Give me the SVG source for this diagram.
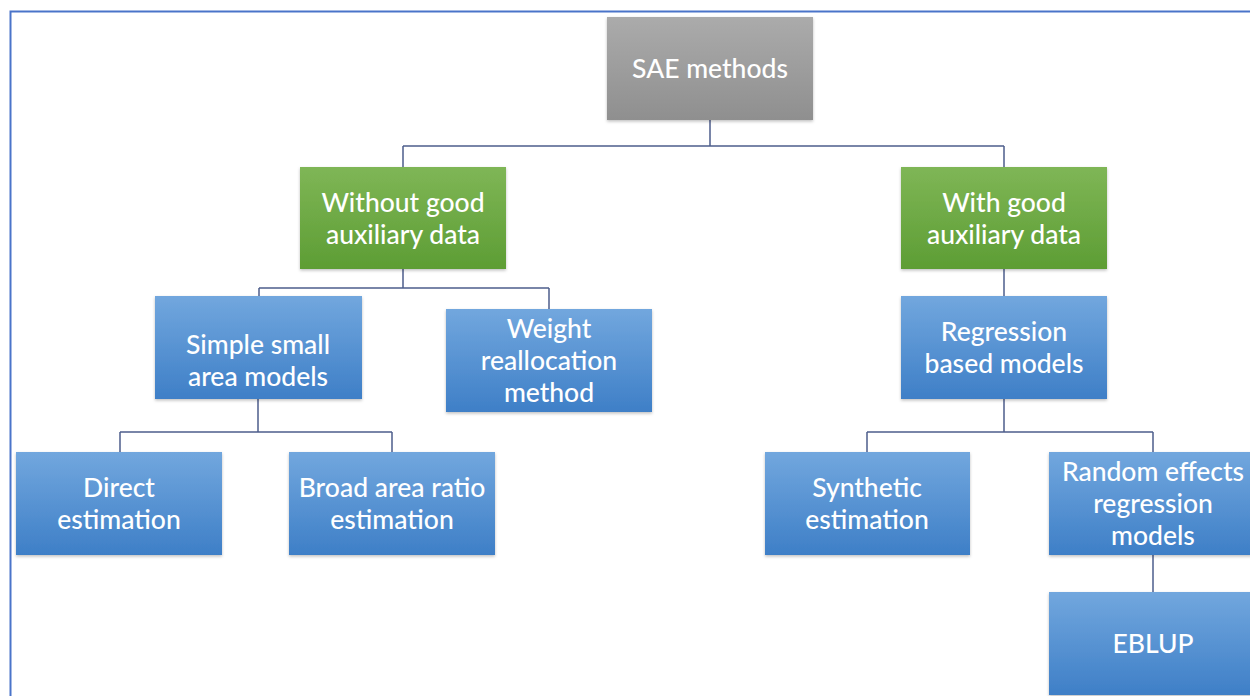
<svg xmlns="http://www.w3.org/2000/svg" width="1250" height="696" viewBox="0 0 1250 696">
  <defs>
    <linearGradient id="gGray" x1="0" y1="0" x2="0" y2="1">
      <stop offset="0" stop-color="#ababab"/>
      <stop offset="1" stop-color="#8f8f8f"/>
    </linearGradient>
    <linearGradient id="gGreen" x1="0" y1="0" x2="0" y2="1">
      <stop offset="0" stop-color="#7fb656"/>
      <stop offset="1" stop-color="#5d9d34"/>
    </linearGradient>
    <linearGradient id="gBlue" x1="0" y1="0" x2="0" y2="1">
      <stop offset="0" stop-color="#72a7de"/>
      <stop offset="1" stop-color="#3e7fc7"/>
    </linearGradient>
    <filter id="shadow" x="-5%" y="-5%" width="110%" height="115%">
      <feDropShadow dx="0" dy="1.5" stdDeviation="1.5" flood-color="#000" flood-opacity="0.25"/>
    </filter>
  </defs>
  <style>
    .box { filter: url(#shadow); }
    .gray { fill: url(#gGray); }
    .green { fill: url(#gGreen); }
    .blue { fill: url(#gBlue); }
    .lbl { font-family: Lato, "Open Sans", "Liberation Sans", sans-serif; font-size: 26.5px; font-weight: 500; fill: #ffffff; text-anchor: middle; }
    .conn { fill: none; stroke: #4d5e8c; stroke-width: 1.5; }
  </style>

  <rect x="0" y="0" width="1250" height="696" fill="#ffffff"/>
  <!-- outer frame -->
  <rect x="10.5" y="11.5" width="1260" height="700" fill="none" stroke="#4a74c9" stroke-width="2"/>

  <g id="connectors">
    <path class="conn" d="M710 120 V146 M403 146 H1004 M403 146 V167 M1004 146 V167"/>
    <path class="conn" d="M403 269 V288 M259 288 H549 M259 288 V296 M549 288 V309"/>
    <path class="conn" d="M1004 269 V296"/>
    <path class="conn" d="M258 399 V432 M120 432 H392 M120 432 V452 M392 432 V452"/>
    <path class="conn" d="M1004 399 V432 M867 432 H1153 M867 432 V452 M1153 432 V452"/>
    <path class="conn" d="M1153 555 V592"/>
  </g>

  <g id="sae-methods">
    <rect class="box gray" x="607" y="17" width="206" height="103"/>
    <text class="lbl" x="710" y="78">SAE methods</text>
  </g>

  <g id="without-good">
    <rect class="box green" x="300" y="167" width="206" height="102"/>
    <text class="lbl" x="403" y="212">Without good</text>
    <text class="lbl" x="403" y="244">auxiliary data</text>
  </g>

  <g id="with-good">
    <rect class="box green" x="901" y="167" width="206" height="102"/>
    <text class="lbl" x="1004" y="212">With good</text>
    <text class="lbl" x="1004" y="244">auxiliary data</text>
  </g>

  <g id="simple-small-area">
    <rect class="box blue" x="155" y="296" width="207" height="103"/>
    <text class="lbl" x="258" y="354">Simple small</text>
    <text class="lbl" x="258" y="386">area models</text>
  </g>

  <g id="weight-reallocation">
    <rect class="box blue" x="446" y="309" width="206" height="103"/>
    <text class="lbl" x="549" y="338">Weight</text>
    <text class="lbl" x="549" y="370">reallocation</text>
    <text class="lbl" x="549" y="402">method</text>
  </g>

  <g id="regression-based">
    <rect class="box blue" x="901" y="296" width="206" height="103"/>
    <text class="lbl" x="1004" y="341">Regression</text>
    <text class="lbl" x="1004" y="373">based models</text>
  </g>

  <g id="direct-estimation">
    <rect class="box blue" x="16" y="452" width="206" height="103"/>
    <text class="lbl" x="119" y="497">Direct</text>
    <text class="lbl" x="119" y="529">estimation</text>
  </g>

  <g id="broad-area-ratio">
    <rect class="box blue" x="289" y="452" width="206" height="103"/>
    <text class="lbl" x="392" y="497">Broad area ratio</text>
    <text class="lbl" x="392" y="529">estimation</text>
  </g>

  <g id="synthetic-estimation">
    <rect class="box blue" x="765" y="452" width="205" height="103"/>
    <text class="lbl" x="867" y="497">Synthetic</text>
    <text class="lbl" x="867" y="529">estimation</text>
  </g>

  <g id="random-effects">
    <rect class="box blue" x="1049" y="452" width="208" height="103"/>
    <text class="lbl" x="1153" y="481">Random effects</text>
    <text class="lbl" x="1153" y="513">regression</text>
    <text class="lbl" x="1153" y="545">models</text>
  </g>

  <g id="eblup">
    <rect class="box blue" x="1049" y="592" width="208" height="103"/>
    <text class="lbl" x="1153" y="653">EBLUP</text>
  </g>
</svg>
